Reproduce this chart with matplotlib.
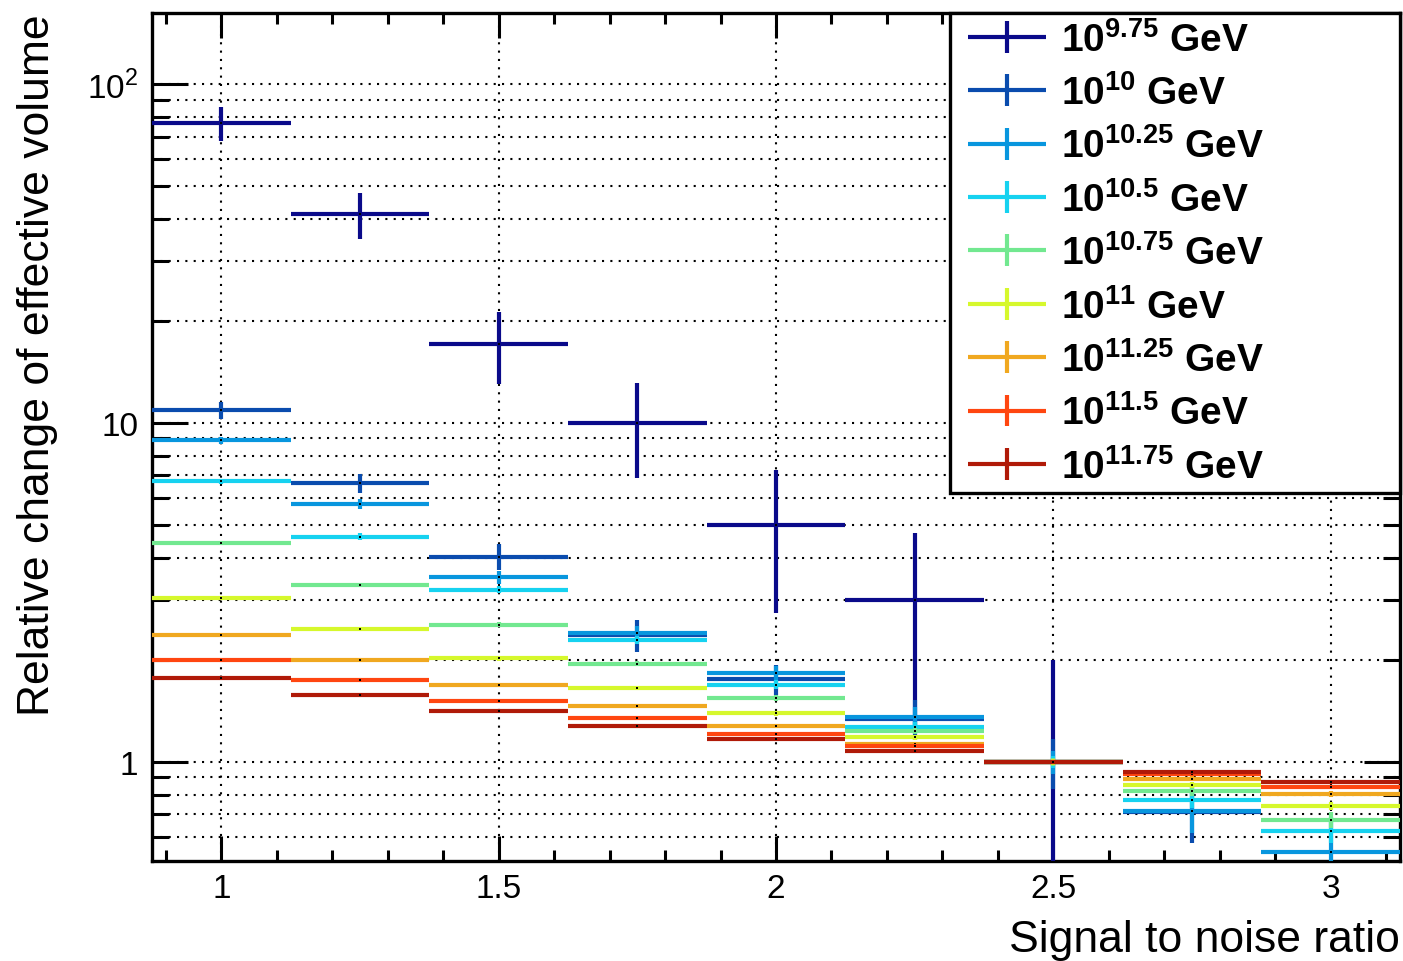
import numpy as np
import matplotlib
matplotlib.use("Agg")
import matplotlib.pyplot as plt
from matplotlib.ticker import FixedLocator, FixedFormatter, LogLocator, NullFormatter, MultipleLocator, FuncFormatter
from matplotlib.container import ErrorbarContainer
from matplotlib.legend_handler import HandlerErrorbar

plt.rcParams['font.family'] = ['Liberation Sans', 'DejaVu Sans']
plt.rcParams['mathtext.fontset'] = 'custom'
plt.rcParams['mathtext.rm'] = 'Liberation Sans'
plt.rcParams['mathtext.bf'] = 'Liberation Sans:bold'

nan = np.nan

# bin centres (signal to noise ratio), bin width 0.25
snr = [1.0, 1.25, 1.5, 1.75, 2.0, 2.25, 2.5, 2.75, 3.0]
bin_halfwidth = 0.125

exponents = ['9.75', '10', '10.25', '10.5', '10.75', '11', '11.25', '11.5', '11.75']
colors = ['#0a0a8a', '#0a4cae', '#0896de', '#16d2f0', '#72e890',
          '#d6f82c', '#f0a820', '#ff4610', '#b01a08']

e0975 = [76.7, 41.3, 17.1, 10.0, 5.0, 3.0, 1.0, nan, nan]
e1000 = [10.9, 6.63, 4.03, 2.37, 1.75, 1.34, 1.0, 0.712, nan]
e1025 = [8.88, 5.78, 3.50, 2.40, 1.83, 1.36, 1.0, 0.717, 0.542]
e1050 = [6.72, 4.62, 3.22, 2.29, 1.69, 1.27, 1.0, 0.772, 0.625]
e1075 = [4.41, 3.33, 2.54, 1.95, 1.54, 1.235, 1.0, 0.821, 0.674]
e1100 = [3.05, 2.47, 2.02, 1.65, 1.39, 1.18, 1.0, 0.855, 0.741]
e1125 = [2.37, 2.0, 1.69, 1.46, 1.28, 1.13, 1.0, 0.891, 0.804]
e1150 = [2.0, 1.74, 1.51, 1.35, 1.21, 1.11, 1.0, 0.922, 0.844]
e1175 = [1.77, 1.58, 1.41, 1.28, 1.17, 1.08, 1.0, 0.934, 0.873]

err0975 = [8.8, 6.4, 4.1, 3.1, 2.25, 1.75, 1.0, nan, nan]
err1000 = [0.6, 0.43, 0.35, 0.26, 0.18, 0.18, 0.17, 0.135, nan]
err1025 = [0.22, 0.2, 0.15, 0.12, 0.09, 0.09, 0.08, 0.1, 0.146]
err1050 = [0.12, 0.1, 0.08, 0.06, 0.05, 0.04, 0.04, 0.04, 0.05]
err1075 = [0.06, 0.05, 0.04, 0.035, 0.03, 0.025, 0.025, 0.03, 0.035]
err1100 = [0.04, 0.03, 0.03, 0.025, 0.02, 0.02, 0.02, 0.02, 0.02]
err1125 = [0.03, 0.02, 0.02, 0.02, 0.015, 0.015, 0.015, 0.015, 0.015]
err1150 = [0.02, 0.02, 0.015, 0.015, 0.01, 0.01, 0.01, 0.01, 0.01]
err1175 = [0.02, 0.015, 0.01, 0.01, 0.01, 0.01, 0.01, 0.01, 0.01]

series = [e0975, e1000, e1025, e1050, e1075, e1100, e1125, e1150, e1175]
errors = [err0975, err1000, err1025, err1050, err1075, err1100, err1125, err1150, err1175]

fig = plt.figure(figsize=(14.03, 9.62), dpi=100)
ax = fig.add_axes([0.1083, 0.1040, 0.8896, 0.8814])

for i, (vals, errs) in enumerate(zip(series, errors)):
    ax.errorbar(snr, vals, xerr=bin_halfwidth, yerr=errs, fmt='none',
                ecolor=colors[i], elinewidth=3, capsize=0, zorder=3 + i,
                label=r'$\mathbf{10^{%s}}$ GeV' % exponents[i])
    ax.plot(snr, vals, ls='none', marker='s', ms=1.6, mew=0, color='k', zorder=3 + i)

ax.set_yscale('log')
ax.set_ylim(0.51, 162)
ax.set_xlim(0.875, 3.125)

ax.yaxis.set_major_locator(FixedLocator([1, 10, 100]))
ax.yaxis.set_major_formatter(FixedFormatter(['1', '10', r'$10^{2}$']))
ax.yaxis.set_minor_locator(LogLocator(base=10, subs=np.arange(2, 10)))
ax.yaxis.set_minor_formatter(NullFormatter())
ax.xaxis.set_major_locator(MultipleLocator(0.5))
ax.xaxis.set_minor_locator(MultipleLocator(0.1))
ax.xaxis.set_major_formatter(FuncFormatter(lambda v, p: '%g' % v))

ax.tick_params(axis='y', which='major', direction='in', length=26, width=2.2,
               left=True, right=True, labelsize=24, pad=10)
ax.tick_params(axis='y', which='minor', direction='in', length=12, width=2.2,
               left=True, right=True)
ax.tick_params(axis='x', which='major', direction='in', length=18, width=2.2,
               bottom=True, top=True, labelsize=24, pad=9)
ax.tick_params(axis='x', which='minor', direction='in', length=8, width=2.2,
               bottom=True, top=True)

for s in ax.spines.values():
    s.set_linewidth(2.4)

ax.set_axisbelow(True)
ax.grid(True, which='major', axis='x', color='k', ls=(0, (1, 3)), lw=1.5)
ax.grid(True, which='both', axis='y', color='k', ls=(0, (1, 3)), lw=1.5)

ax.set_xlabel('Signal to noise ratio', fontsize=32, loc='right')
ax.xaxis.set_label_coords(1.0, -0.068)
ax.set_ylabel('Relative change of effective volume', fontsize=32, loc='top')
ax.yaxis.set_label_coords(-0.075, 1.0)

leg = ax.legend(loc='upper left', bbox_to_anchor=(0.6394, 1.0, 0.3606, 0.0),
                mode='expand', borderaxespad=0, fancybox=False, framealpha=1,
                edgecolor='k', prop={'size': 28, 'weight': 'bold'},
                handlelength=2.03, handletextpad=0.63, borderpad=0.2,
                labelspacing=0.4,
                handler_map={ErrorbarContainer: HandlerErrorbar(xerr_size=1.0, yerr_size=0.41,
                                                                xpad=0.5)})
leg.get_frame().set_linewidth(2.4)
leg.set_zorder(20)

fig.savefig('out.png', dpi=100)
